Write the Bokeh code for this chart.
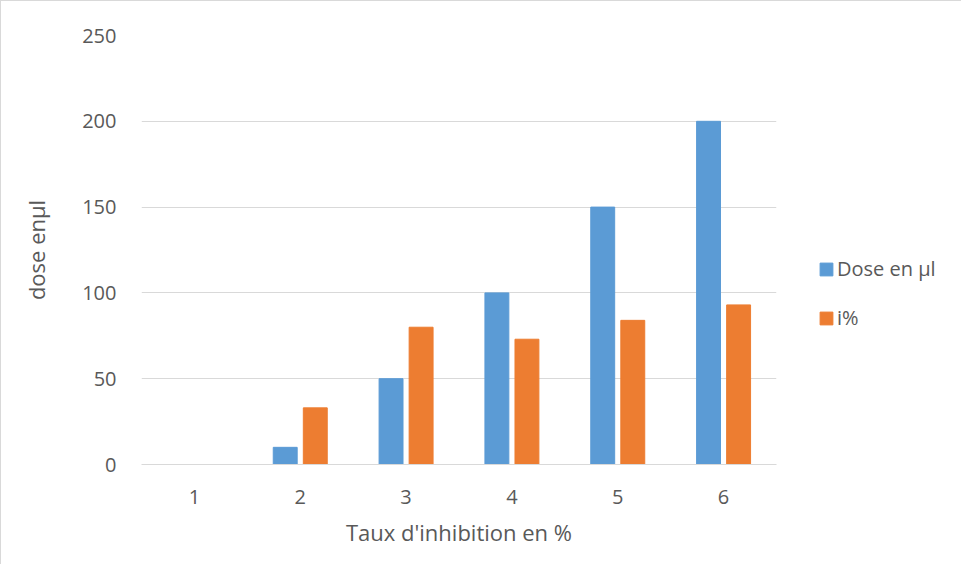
from bokeh.plotting import figure
from bokeh.models import ColumnDataSource, FactorRange, Range1d, Legend, LegendItem, FixedTicker
from bokeh.transform import dodge
from bokeh.embed import file_html
from bokeh.resources import INLINE

categories = ["1", "2", "3", "4", "5", "6"]
dose = [0, 10, 50, 100, 150, 200]
inhibition = [0, 33, 80, 73, 84, 93]
y_ticks = [0, 50, 100, 150, 200, 250]
series_names = ["Dose en µl", "i%"]
x_title = "Taux d'inhibition en %"
y_title = "dose enµl"

src = ColumnDataSource(data=dict(cat=categories, dose=dose, inhib=inhibition))

FONT = "Open Sans"
TXT = "#595959"

p = figure(
    x_range=FactorRange(factors=categories, range_padding=0),
    y_range=Range1d(0, 250),
    frame_width=635, frame_height=429,
    min_border_left=140, min_border_right=170,
    min_border_top=34, min_border_bottom=100,
    output_backend="svg", toolbar_location=None,
)
p.styles = {"border-top": "1px solid #d9d9d9", "border-left": "1px solid #d9d9d9"}
p.outline_line_color = None

b1 = p.vbar(x=dodge("cat", -0.142, range=p.x_range), top="dose", width=0.226,
            source=src, fill_color="#5B9BD5", line_color="#5B9BD5")
b2 = p.vbar(x=dodge("cat", 0.142, range=p.x_range), top="inhib", width=0.226,
            source=src, fill_color="#ED7D31", line_color="#ED7D31")

p.yaxis.ticker = FixedTicker(ticks=y_ticks)
p.ygrid.ticker = FixedTicker(ticks=y_ticks)
p.xgrid.grid_line_color = None
p.ygrid.grid_line_color = "#d9d9d9"
p.ygrid.grid_line_width = 1

for ax in (p.xaxis[0], p.yaxis[0]):
    ax.major_tick_line_color = None
    ax.minor_tick_line_color = None
    ax.major_label_text_font = FONT
    ax.major_label_text_font_size = "20px"
    ax.major_label_text_color = TXT
    ax.axis_label_text_font = FONT
    ax.axis_label_text_font_size = "22px"
    ax.axis_label_text_color = TXT
    ax.axis_label_text_font_style = "normal"

p.yaxis.axis_line_color = None
p.xaxis.axis_line_color = "#d9d9d9"
p.xaxis.axis_label = x_title
p.yaxis.axis_label = y_title
p.yaxis.major_label_standoff = 19
p.xaxis.major_label_standoff = 19
p.xaxis.axis_label_standoff = 10
p.yaxis.axis_label_standoff = 28

legend = Legend(
    items=[LegendItem(label=series_names[0], renderers=[b1]),
           LegendItem(label=series_names[1], renderers=[b2])],
    location=(42, 133),
    orientation="vertical",
    glyph_width=16, glyph_height=16,
    label_height=20, spacing=22, label_standoff=3,
    padding=0, margin=0,
    border_line_color=None, background_fill_alpha=0,
    label_text_font=FONT, label_text_font_size="20px", label_text_color=TXT,
)
p.add_layout(legend, "right")

open("out.html", "w").write(file_html(p, INLINE))
